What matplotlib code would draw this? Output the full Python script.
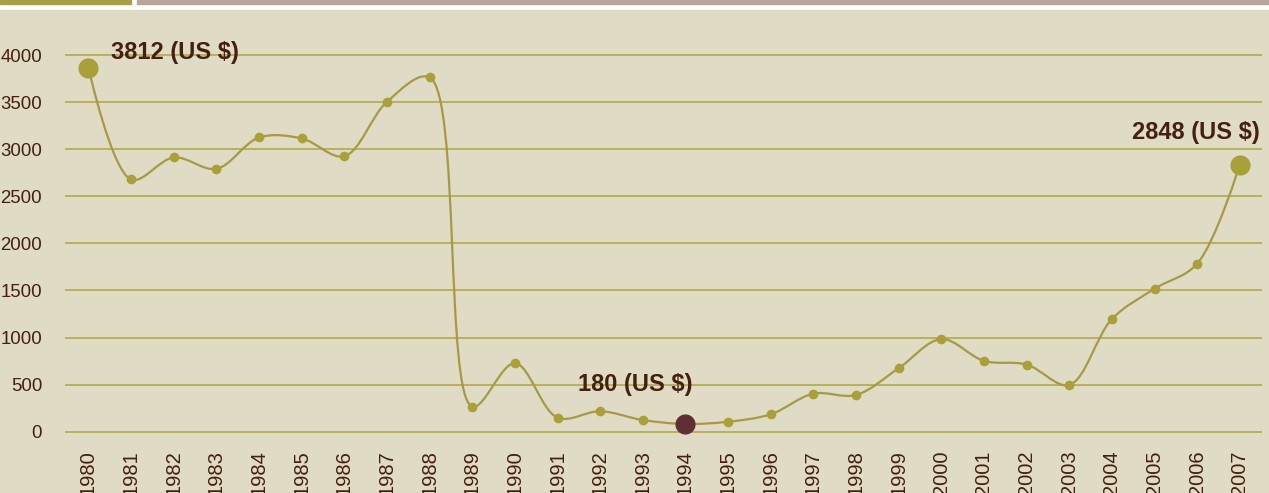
import numpy as np
import matplotlib
matplotlib.use("Agg")
import matplotlib.pyplot as plt
from matplotlib.patches import Rectangle, PathPatch
from matplotlib.path import Path

years = list(range(1980, 2008))
values = [3865, 2678, 2912, 2791, 3124, 3114, 2925, 3503, 3762, 266,
          727, 149, 217, 124, 82, 106, 185, 404, 390, 674,
          983, 752, 713, 497, 1196, 1518, 1784, 2837]
yticks = [0, 500, 1000, 1500, 2000, 2500, 3000, 3500, 4000]
ann_max = "3812 (US $)"
ann_min = "180 (US $)"
ann_last = "2848 (US $)"

BG = "#e0dbc5"
OLIVE = "#a9a03a"
LINE = "#a59a45"
GRID = "#b2a947"
TXT = "#43200f"
MINC = "#5e3036"

W, H = 1269, 493
fig = plt.figure(figsize=(W / 100, H / 100), dpi=100, facecolor="white")

# decorative header and background
fig.patches.append(Rectangle((0, 0), 1, (H - 9.5) / H, transform=fig.transFigure, color=BG, zorder=-5))
fig.patches.append(Rectangle((0, (H - 4) / H), 131 / W, 4 / H, transform=fig.transFigure, color="#a99e4b", zorder=-5))
fig.patches.append(Rectangle((137 / W, (H - 4) / H), 1 - 137 / W, 4 / H, transform=fig.transFigure, color="#b8a69a", zorder=-5))

ylo, yhi = -100, 4300
XLO, XHI = 1979.45, 2007.52
ppu = (431.7 - 55) / 4000
ppx = (1262 - 65) / (XHI - XLO)
bot_px = 431.7 - ylo * ppu
top_px = 55 - (yhi - 4000) * ppu
x0 = 65 / W
x1 = 1262 / W
ax = fig.add_axes([x0, (H - bot_px) / H, x1 - x0, (bot_px - top_px) / H])
ax.set_facecolor("none")
for s in ax.spines.values():
    s.set_visible(False)

# centripetal Catmull-Rom spline (alpha 0.5), computed in pixel space
x = np.array(years, dtype=float)
y = np.array(values, dtype=float)
n = len(x)
P = np.column_stack([x * ppx, y * ppu])
alpha = 0.5


def la(a, b):
    d2 = float(np.sum((a - b) ** 2))
    l2a = d2 ** alpha
    return np.sqrt(l2a), l2a


verts = [tuple(P[0])]
codes = [Path.MOVETO]
for i in range(n - 1):
    p1, p2 = P[i], P[i + 1]
    l12_a, l12_2a = la(p1, p2)
    c1 = p1.copy()
    c2 = p2.copy()
    if i > 0:
        p0 = P[i - 1]
        l01_a, l01_2a = la(p0, p1)
        a = 2 * l01_2a + 3 * l01_a * l12_a + l12_2a
        m = 3 * l01_a * (l01_a + l12_a)
        c1 = (p1 * a - p0 * l12_2a + p2 * l01_2a) / m
    if i < n - 2:
        p3 = P[i + 2]
        l23_a, l23_2a = la(p2, p3)
        b = 2 * l23_2a + 3 * l23_a * l12_a + l12_2a
        m = 3 * l23_a * (l23_a + l12_a)
        c2 = (p2 * b + p1 * l23_2a - p3 * l12_2a) / m
    verts += [tuple(c1), tuple(c2), tuple(p2)]
    codes += [Path.CURVE4] * 3
verts = [(vx / ppx, vy / ppu) for vx, vy in verts]
ax.add_patch(PathPatch(Path(verts, codes), facecolor="none", edgecolor=LINE, lw=1.6, zorder=3))

imin = int(np.argmin(y))
small = [i for i in range(n) if i not in (0, n - 1, imin)]
ax.plot(x[small], y[small], "o", color=OLIVE, ms=7, mew=0, zorder=4)
ax.plot([x[0], x[-1]], [y[0], y[-1]], "o", color=OLIVE, ms=14.5, mew=0, zorder=5)
ax.plot([x[imin]], [y[imin]], "o", color=MINC, ms=14.5, mew=0, zorder=5)

ax.set_xlim(XLO, XHI)
ax.set_ylim(ylo, yhi)
ax.set_yticks(yticks)
ax.set_xticks(years)
ax.set_xticklabels([str(v) for v in years], rotation=90, ha="center", va="top",
                   family=["Liberation Sans", "DejaVu Sans"], fontsize=14.5, color=TXT)
ax.set_yticklabels([str(v) for v in yticks], family=["Liberation Sans Narrow", "Liberation Sans", "DejaVu Sans"],
                   fontsize=13.4, color=TXT)
ax.tick_params(axis="both", length=0)
ax.tick_params(axis="y", pad=16.5)
ax.tick_params(axis="x", pad=6.8)
ax.grid(axis="y", color=GRID, lw=1.2)
ax.grid(axis="x", visible=False)
ax.set_axisbelow(True)

fp = dict(family=["Liberation Sans", "DejaVu Sans"], fontweight="bold", fontsize=17, color=TXT)


def px2d(xp, yp):
    xd = XLO + (xp - 65) / ppx
    yd = (431.7 - yp) / ppu
    return xd, yd


ax.text(*px2d(111, 53), ann_max, ha="left", va="center", zorder=6, **fp)
ax.text(*px2d(1260, 132), ann_last, ha="right", va="center", zorder=6, **fp)
ax.text(*px2d(578, 385), ann_min, ha="left", va="center", zorder=6, **fp)

fig.savefig("out.png", dpi=100, facecolor=fig.get_facecolor())
